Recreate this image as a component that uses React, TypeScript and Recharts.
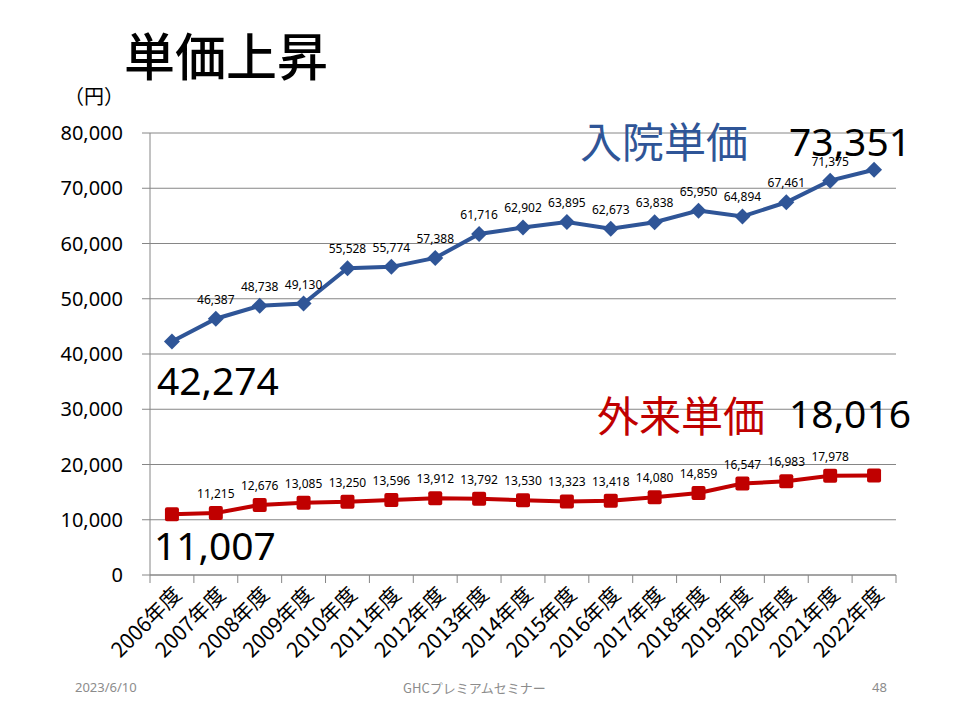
import { CartesianGrid, LabelList, Line, LineChart, XAxis, YAxis } from "recharts";

const years = [
  "2006年度", "2007年度", "2008年度", "2009年度", "2010年度", "2011年度",
  "2012年度", "2013年度", "2014年度", "2015年度", "2016年度", "2017年度",
  "2018年度", "2019年度", "2020年度", "2021年度", "2022年度",
];
const inpatient = [
  42274, 46387, 48738, 49130, 55528, 55774, 57388, 61716, 62902, 63895,
  62673, 63838, 65950, 64894, 67461, 71375, 73351,
];
const outpatient = [
  11007, 11215, 12676, 13085, 13250, 13596, 13912, 13792, 13530, 13323,
  13418, 14080, 14859, 16547, 16983, 17978, 18016,
];
const yTicks = [0, 10000, 20000, 30000, 40000, 50000, 60000, 70000, 80000];

const data = years.map((y, i) => ({ year: y, inpatient: inpatient[i], outpatient: outpatient[i] }));

const W = 960;
const H = 720;
const X_H = 145;
const M = { top: 133, right: 64, bottom: 0, left: 0 };
const Y_W = 150;
const BAND = (W - M.left - M.right - Y_W) / years.length;
const AXIS = "#868686";
const BLUE = "#2F5597";
const RED = "#C00000";
const NUM_FONT = "'Noto Sans', sans-serif";
const JP_FONT = "'Noto Sans CJK JP', sans-serif";

const fmt = (v: number) => v.toLocaleString("en-US");

function XTick({ x, y, payload, index }: any) {
  const left = x - BAND / 2;
  const tx = x + 11;
  const ty = y + 21;
  return (
    <g>
      <line x1={left} y1={y} x2={left} y2={y + 8} stroke={AXIS} />
      {index === years.length - 1 && (
        <line x1={x + BAND / 2} y1={y} x2={x + BAND / 2} y2={y + 8} stroke={AXIS} />
      )}
      <text
        x={tx}
        y={ty}
        textAnchor="end"
        transform={`rotate(-45 ${tx} ${ty})`}
        fontSize={21}
        fontFamily={JP_FONT}
        fill="#000"
      >
        {payload.value}
      </text>
    </g>
  );
}

function makeLabel(first: { dx: number; dy: number }, last: { dx: number; dy: number }) {
  return (props: any) => {
    const { x, y, value, index } = props;
    if (index === 0 || index === years.length - 1) {
      const o = index === 0 ? first : last;
      return (
        <text x={x + o.dx} y={y + o.dy} fontSize={39} fontFamily={NUM_FONT} fill="#000">
          {fmt(value)}
        </text>
      );
    }
    return (
      <text x={x} y={y - 15} textAnchor="middle" fontSize={12} fontFamily={NUM_FONT} fill="#000">
        {fmt(value)}
      </text>
    );
  };
}

function Diamond({ cx, cy }: any) {
  const r = 8;
  return <path d={`M${cx},${cy - r}L${cx + r},${cy}L${cx},${cy + r}L${cx - r},${cy}Z`} fill={BLUE} />;
}

function Square({ cx, cy }: any) {
  const r = 7;
  return <rect x={cx - r} y={cy - r} width={r * 2} height={r * 2} rx={2} fill={RED} />;
}

const textStyle = (left: number, top: number, size: number, color: string, extra = {}) => ({
  position: "absolute" as const,
  left,
  top,
  fontSize: size,
  lineHeight: 1,
  color,
  fontFamily: JP_FONT,
  whiteSpace: "nowrap" as const,
  ...extra,
});

export default function App() {
  return (
    <div style={{ position: "absolute", left: 0, top: 0, width: W, height: H, background: "#fff" }}>
      <LineChart width={W} height={H} data={data} margin={M}>
        <CartesianGrid vertical={false} stroke={AXIS} strokeWidth={1} />
        <XAxis
          dataKey="year"
          scale="band"
          interval={0}
          tickLine={false}
          tickSize={0}
          tickMargin={0}
          stroke={AXIS}
          height={X_H}
          tick={<XTick />}
        />
        <YAxis
          width={Y_W}
          domain={[0, 80000]}
          ticks={yTicks}
          tickFormatter={fmt}
          tickSize={8}
          tickMargin={19}
          stroke={AXIS}
          tick={{ fontSize: 20, fill: "#000", fontFamily: NUM_FONT }}
        />
        <Line
          dataKey="inpatient"
          stroke={BLUE}
          strokeWidth={4}
          dot={<Diamond />}
          isAnimationActive={false}
        >
          <LabelList dataKey="inpatient" content={makeLabel({ dx: -15, dy: 54 }, { dx: -85, dy: -14 })} />
        </Line>
        <Line
          dataKey="outpatient"
          stroke={RED}
          strokeWidth={4}
          dot={<Square />}
          isAnimationActive={false}
        >
          <LabelList dataKey="outpatient" content={makeLabel({ dx: -18, dy: 46 }, { dx: -85, dy: -47 })} />
        </Line>
      </LineChart>

      <div style={textStyle(124, 29, 51, "#000", { fontWeight: 500 })}>単価上昇</div>
      <div style={textStyle(64, 86, 20, "#000")}>（円）</div>
      <div style={textStyle(580, 119, 42, BLUE)}>入院単価</div>
      <div style={textStyle(597, 393, 42, RED)}>外来単価</div>
      <div style={textStyle(75, 681, 13, "#8c8c8c", { fontFamily: NUM_FONT })}>2023/6/10</div>
      <div style={textStyle(403, 681, 13, "#8c8c8c")}>GHCプレミアムセミナー</div>
      <div style={textStyle(872, 681, 13, "#8c8c8c", { fontFamily: NUM_FONT })}>48</div>
    </div>
  );
}
